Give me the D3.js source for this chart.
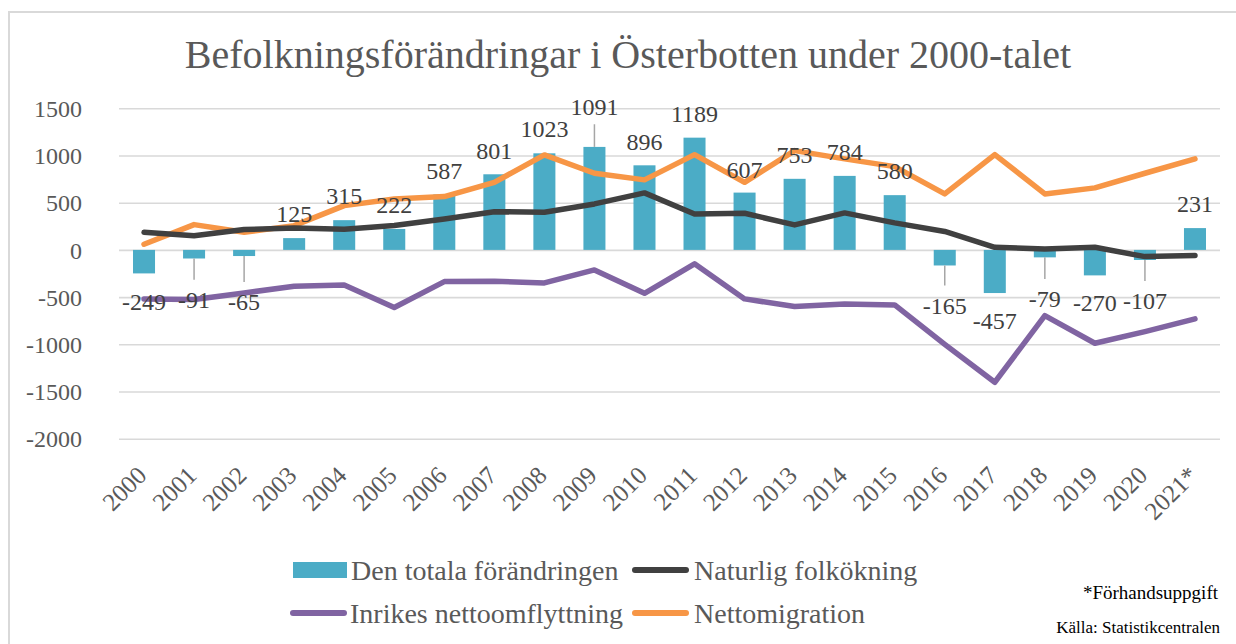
<!DOCTYPE html>
<html>
<head>
<meta charset="utf-8">
<script src="https://cdn.jsdelivr.net/npm/d3@7"></script>
<style>
  html, body { margin: 0; padding: 0; background: #fff; }
  svg { display: block; }
  text { font-family: "Liberation Serif", "DejaVu Serif", serif; }
</style>
</head>
<body>
<svg id="chart" width="1236" height="644"></svg>
<script>
// ---------------- data ----------------
const years = ["2000","2001","2002","2003","2004","2005","2006","2007","2008","2009","2010",
               "2011","2012","2013","2014","2015","2016","2017","2018","2019","2020","2021*"];
const totalChange = [-249,-91,-65,125,315,222,587,801,1023,1091,896,1189,607,753,784,580,-165,-457,-79,-270,-107,231];
const naturalIncrease = [186,151,215,233,218,258,328,405,398,487,604,381,388,265,392,286,195,28,10,28,-71,-60];
const domesticNet = [-519,-526,-456,-385,-371,-610,-336,-332,-350,-212,-460,-148,-519,-600,-572,-583,-1000,-1402,-696,-989,-865,-731];
const netMigration = [60,268,186,257,469,540,565,716,1006,812,742,1009,716,1052,964,882,593,1009,593,657,812,964];
const yTicks = [1500,1000,500,0,-500,-1000,-1500,-2000];
const seriesNames = ["Den totala förändringen","Naturlig folkökning","Inrikes nettoomflyttning","Nettomigration"];
const titleText = "Befolkningsförändringar i Österbotten under 2000-talet";
const noteText = "*Förhandsuppgift";
const sourceText = "Källa: Statistikcentralen";
// where each data label sits (value units)
const labelAt = [-548,-527,-553,377,575,480,835,1052,1282,1511,1140,1443,845,1006,1034,840,-590,-749,-519,-564,-542,487];

// ---------------- layout ----------------
const svg = d3.select("#chart");
const W = 1236, H = 644;
const plot = {left: 119, right: 1220, top: 108.3, bottom: 438.7};
const colors = {bar: "#4BACC6", natural: "#404040", domestic: "#8064A2", migration: "#F79646"};

svg.append("rect").attr("x",0).attr("y",0).attr("width",W).attr("height",H).attr("fill","#fff");
// chart frame
svg.append("rect").attr("x",9).attr("y",12).attr("width",W+20).attr("height",H+20)
  .attr("fill","none").attr("stroke","#D9D9D9").attr("stroke-width",2);

const x = d3.scaleBand().domain(years).range([plot.left, plot.right]).padding(0);
const y = d3.scaleLinear().domain([-2000,1500]).range([plot.bottom, plot.top]);
const cx = d => x(d) + x.bandwidth()/2;
const barW = x.bandwidth()*0.44;

// title
svg.append("text").attr("x",628).attr("y",68).attr("text-anchor","middle")
  .attr("font-size",40).attr("fill","#595959").text(titleText);

// gridlines + y labels
const yAxis = d3.axisLeft(y).tickValues(yTicks).tickSize(-(plot.right-plot.left)).tickPadding(37).tickFormat(d => String(d));
const gy = svg.append("g").attr("transform",`translate(${plot.left},0)`).call(yAxis);
gy.select(".domain").remove();
gy.selectAll(".tick line").attr("stroke","#D9D9D9").attr("stroke-width",1.6);
gy.selectAll(".tick text").attr("fill","#595959").attr("font-size",24)
  .attr("font-family","Liberation Serif, serif").attr("dy","0.34em");

// bars
svg.append("g").selectAll("rect").data(years).join("rect")
  .attr("x", (d)=> cx(d)-barW/2)
  .attr("width", barW)
  .attr("y", (d,i)=> y(Math.max(0,totalChange[i])))
  .attr("height", (d,i)=> Math.abs(y(totalChange[i]) - y(0)))
  .attr("fill", colors.bar);

// lines
const lineGen = vals => d3.line().x((d,i)=>cx(years[i])).y(d=>y(d))(vals);
[[domesticNet,colors.domestic],[netMigration,colors.migration],[naturalIncrease,colors.natural]].forEach(([vals,c])=>{
  svg.append("path").attr("d", lineGen(vals)).attr("fill","none").attr("stroke",c)
    .attr("stroke-width",5.5).attr("stroke-linejoin","round").attr("stroke-linecap","round");
});

// leader lines + data labels
const gl = svg.append("g");
years.forEach((yr,i)=>{
  const v = totalChange[i];
  const barEnd = y(v);
  const lab = y(labelAt[i]);
  const dist = Math.abs(lab - barEnd);
  if (dist > 35) {
    const end = v < 0 ? lab - 20 : lab + 17;
    gl.append("line").attr("x1",cx(yr)).attr("x2",cx(yr)).attr("y1",barEnd).attr("y2",end)
      .attr("stroke","#A6A6A6").attr("stroke-width",1.5);
  }
  gl.append("text").attr("x",cx(yr)).attr("y",lab).attr("dy","0.34em")
    .attr("text-anchor","middle").attr("font-size",24).attr("fill","#404040").text(String(v));
});

// x axis labels
const gx = svg.append("g");
years.forEach(yr=>{
  gx.append("text").attr("transform",`translate(${cx(yr)+4},477) rotate(-45)`)
    .attr("text-anchor","end").attr("font-size",25).attr("fill","#595959").text(yr);
});

// legend
const lg = svg.append("g");
const rows = [
  {type:"rect", color:colors.bar, name:seriesNames[0], sx:293, tx:351, cy:570},
  {type:"line", color:colors.natural, name:seriesNames[1], sx:632, tx:694, cy:570},
  {type:"line", color:colors.domestic, name:seriesNames[2], sx:290, tx:350, cy:613},
  {type:"line", color:colors.migration, name:seriesNames[3], sx:632, tx:694, cy:613}
];
rows.forEach(r=>{
  if (r.type==="rect") {
    lg.append("rect").attr("x",r.sx).attr("y",r.cy-8).attr("width",54).attr("height",16).attr("fill",r.color);
  } else {
    lg.append("line").attr("x1",r.sx+3).attr("x2",r.sx+54).attr("y1",r.cy).attr("y2",r.cy)
      .attr("stroke",r.color).attr("stroke-width",6).attr("stroke-linecap","round");
  }
  lg.append("text").attr("x",r.tx).attr("y",r.cy).attr("dy","0.34em").attr("font-size",28)
    .attr("fill","#595959").text(r.name);
});

// notes
svg.append("text").attr("x",1218).attr("y",599).attr("text-anchor","end").attr("font-size",19)
  .attr("fill","#000").text(noteText);
svg.append("text").attr("x",1220).attr("y",633).attr("text-anchor","end").attr("font-size",17)
  .attr("fill","#000").text(sourceText);
</script>
</body>
</html>
